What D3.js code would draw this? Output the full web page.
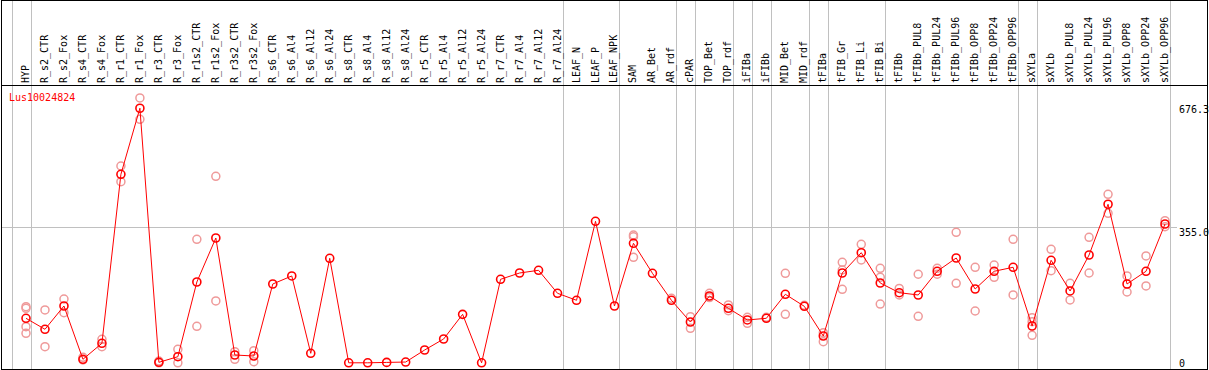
<!DOCTYPE html>
<html>
<head>
<meta charset="utf-8">
<script src="https://cdn.jsdelivr.net/npm/d3@7"></script>
<style>
  body { margin: 0; background: #fff; }
  svg { display: block; }
  text { font-family: "DejaVu Sans Mono", monospace; font-size: 10px; }
</style>
</head>
<body>
<div id="chart"></div>
<script>
const geneName = "Lus10024824";

const categories = ["HYP", "R_s2_CTR", "R_s2_Fox", "R_s4_CTR", "R_s4_Fox", "R_r1_CTR", "R_r1_Fox",
  "R_r3_CTR", "R_r3_Fox", "R_r1s2_CTR", "R_r1s2_Fox", "R_r3s2_CTR", "R_r3s2_Fox", "R_s6_CTR",
  "R_s6_Al4", "R_s6_Al12", "R_s6_Al24", "R_s8_CTR", "R_s8_Al4", "R_s8_Al12", "R_s8_Al24",
  "R_r5_CTR", "R_r5_Al4", "R_r5_Al12", "R_r5_Al24", "R_r7_CTR", "R_r7_Al4", "R_r7_Al12", "R_r7_Al24",
  "LEAF_N", "LEAF_P", "LEAF_NPK", "SAM", "AR_Bet", "AR_rdf", "cPAR", "TOP_Bet", "TOP_rdf",
  "iFIBa", "iFIBb", "MID_Bet", "MID_rdf", "tFIBa", "tFIB_Gr", "tFIB_Li", "tFIB_Bi", "tFIBb",
  "tFIBb_PUL8", "tFIBb_PUL24", "tFIBb_PUL96", "tFIBb_OPP8", "tFIBb_OPP24", "tFIBb_OPP96",
  "sXYLa", "sXYLb", "sXYLb_PUL8", "sXYLb_PUL24", "sXYLb_PUL96", "sXYLb_OPP8", "sXYLb_OPP24", "sXYLb_OPP96"];

// mean expression per sample
const means = [116.6, 87.8, 148.8, 9.2, 51.1, 494, 667, 1.3, 16, 211.7, 327, 20.4, 17.8, 206.5,
  227.5, 24.9, 273.8, 0, 0, 1, 2, 33.5, 62.4, 127, 0, 218.8, 235.3, 242.4, 182.1,
  163.8, 370.8, 148.8, 313.2, 234.5, 163.8, 106.9, 175, 142.8, 112.2, 116.6, 179.5, 148,
  70.2, 235.3, 288.5, 209.1, 183.7, 177.7, 239.8, 274.6, 193.4, 239.8, 250.3,
  96.4, 268.6, 188.2, 282.5, 415.4, 206.5, 239.8, 363.7];

// replicate values (only those visible apart from the mean)
const replicates = [
  [147, 142.8, 94.6, 77.3], [138.4, 42.2], [167.2, 131.3], [14.4, 7.3], [61.6, 42.2],
  [515.7, 474.6], [694, 638], [4.7, 0], [35.4, 0], [323.6, 95.6], [488.7, 162], [29.1, 9.2],
  [31.7, 2.9], [], [], [], [], [], [], [], [], [], [], [], [], [], [], [], [],
  [], [], [], [334.9, 330.5, 276.5], [], [169], [120.8, 90.4], [182, 171], [151.5, 136.5],
  [119.2, 103.5], [119.2], [234.5, 127], [150.5], [78.9, 55.3], [263.4, 243.2, 192.6],
  [310.5, 269.4], [247.6, 224, 154], [195, 177.7], [232, 121.9], [247.6, 232], [342, 208.3],
  [250.3, 135.7], [256.3, 224], [323.6, 177.7], [118.2, 107.7, 72.1], [297.4, 241.4],
  [208.3, 164.6], [328.9, 235.3], [441.6, 391.8], [227.5, 185.5], [279.9, 201.3], [372.4, 356.7]];

// group separators: index of the sample after which a line is drawn (-1 = before first)
const groupBreaks = [-1, 0, 28, 31, 34, 35, 37, 38, 39, 41, 42, 45, 52, 53, 60];

const yTicks = [676.3, 355.0, 0];
const gridValue = 355.0;

const W = 1209, H = 370;
const headerBottom = 85;

const svg = d3.select("#chart").append("svg")
  .attr("width", W).attr("height", H);

const x = d3.scalePoint().domain(categories).range([26, 1165]);
const step = x.step();
const y = d3.scaleLinear().domain([0, 676.3]).range([362.8, 104.7]);

// vertical group lines (full height)
svg.append("g").selectAll("line")
  .data(groupBreaks)
  .enter().append("line")
  .attr("x1", d => Math.round(x(categories[0]) + d * step + 5) + 0.5)
  .attr("x2", d => Math.round(x(categories[0]) + d * step + 5) + 0.5)
  .attr("y1", 0).attr("y2", H)
  .attr("stroke", "#c0c0c0");

// horizontal grid line
svg.append("line")
  .attr("x1", 1).attr("x2", 1177)
  .attr("y1", Math.round(y(gridValue)) + 0.5)
  .attr("y2", Math.round(y(gridValue)) + 0.5)
  .attr("stroke", "#c0c0c0");

// sample labels
svg.append("g").selectAll("text")
  .data(categories)
  .enter().append("text")
  .attr("transform", d => "translate(" + (x(d) + 3) + "," + (headerBottom - 2) + ") rotate(-90)")
  .attr("fill", "#000")
  .text(d => d);

// right axis labels
svg.append("g").selectAll("text")
  .data(yTicks)
  .enter().append("text")
  .attr("x", 1179)
  .attr("y", d => Math.min(y(d) + 8.5, 366.5))
  .attr("fill", "#000")
  .text(d => d === 0 ? "0" : d.toFixed(1));

// replicates
const repPoints = [];
replicates.forEach((r, i) => r.forEach(v => repPoints.push({ c: categories[i], v: v })));

svg.append("g").selectAll("circle")
  .data(repPoints)
  .enter().append("circle")
  .attr("cx", d => x(d.c))
  .attr("cy", d => y(d.v))
  .attr("r", 4)
  .attr("fill", "none")
  .attr("stroke", "#ef9a9a")
  .attr("stroke-width", 1.5);

// mean line
const line = d3.line()
  .x((d, i) => x(categories[i]))
  .y(d => y(d));

svg.append("path")
  .datum(means)
  .attr("d", line)
  .attr("fill", "none")
  .attr("stroke", "#ff0000")
  .attr("stroke-width", 1);

svg.append("g").selectAll("circle")
  .data(means)
  .enter().append("circle")
  .attr("cx", (d, i) => x(categories[i]))
  .attr("cy", d => y(d))
  .attr("r", 4)
  .attr("fill", "none")
  .attr("stroke", "#ff0000")
  .attr("stroke-width", 1.6);

// gene name
svg.append("text")
  .attr("x", 9).attr("y", 101)
  .attr("fill", "#ff0000")
  .text(geneName);

// frame
svg.append("line")
  .attr("x1", 1).attr("x2", 1208)
  .attr("y1", headerBottom + 0.5).attr("y2", headerBottom + 0.5)
  .attr("stroke", "#000");

svg.append("rect")
  .attr("x", 1.5).attr("y", 0.5)
  .attr("width", 1206).attr("height", 369)
  .attr("fill", "none")
  .attr("stroke", "#000");
</script>
</body>
</html>
